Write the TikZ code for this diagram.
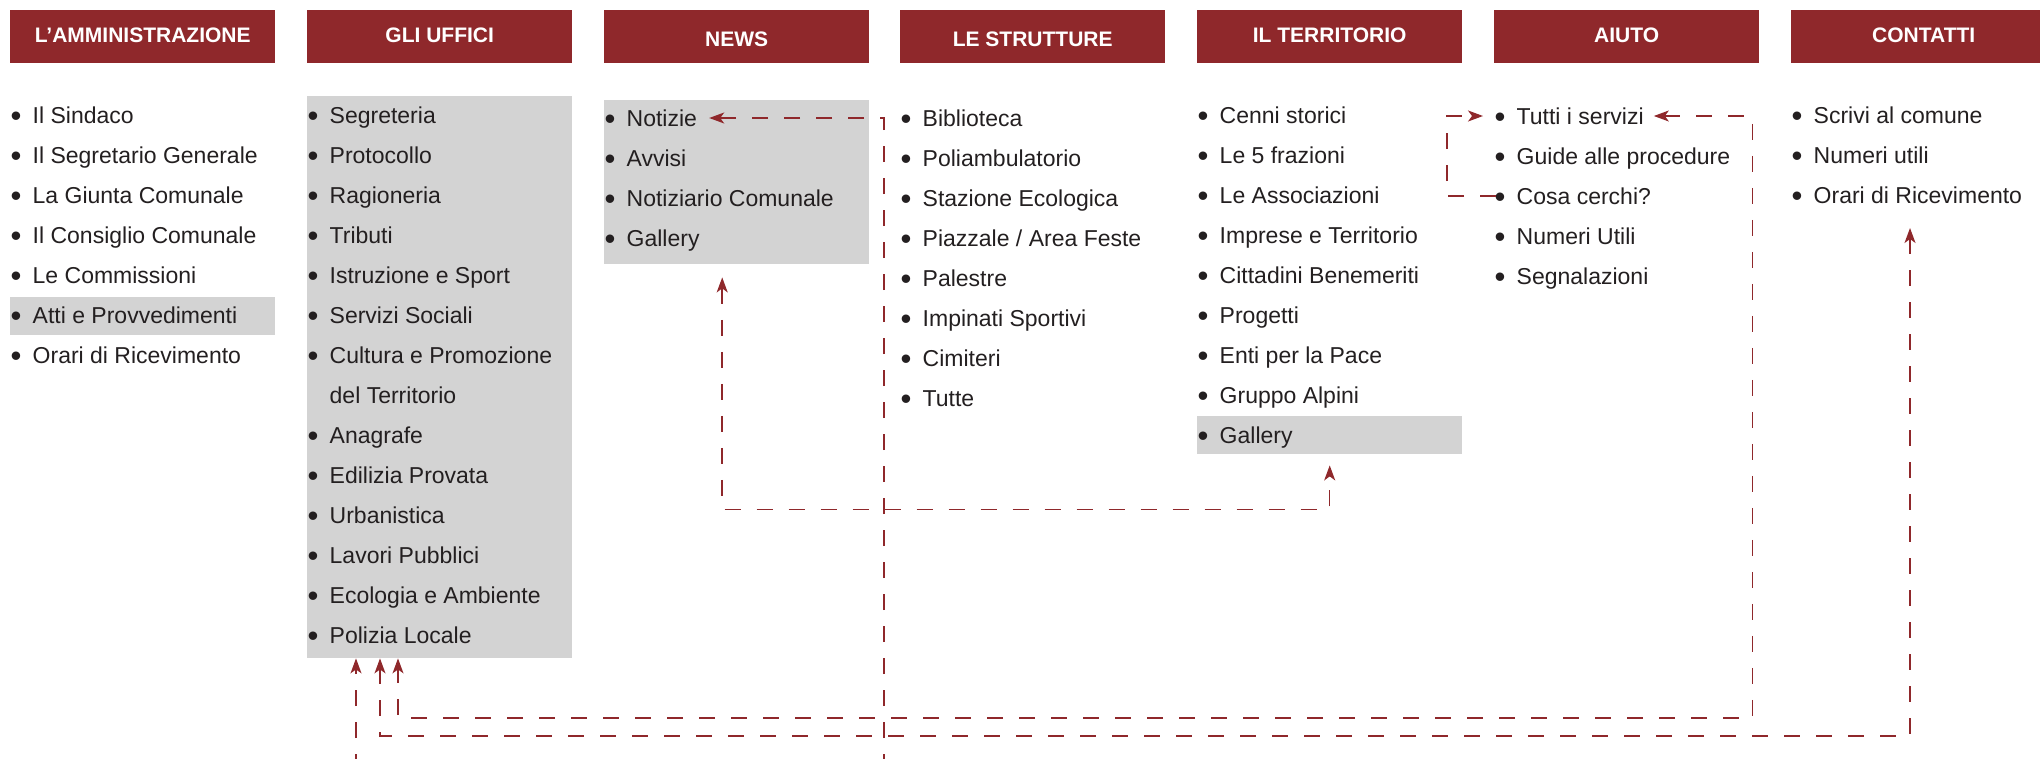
\documentclass[tikz,border=0pt]{standalone}
\usepackage{fontspec}
\usepackage{graphicx}
\setmainfont{Liberation Sans}
\usetikzlibrary{arrows.meta,calc}

\definecolor{menured}{RGB}{143,40,43}
\definecolor{panelgray}{RGB}{211,211,211}
\definecolor{ink}{RGB}{35,31,32}

\newcommand{\itembullet}{\makebox[20.5pt][l]{\hspace*{-1.5pt}\raisebox{-2.9pt}{\scalebox{1.35}{\textbullet}}}}
\newcommand{\nobullet}{\hspace*{20.5pt}}

\tikzset{
  header/.style={fill=menured, text=white, anchor=north west, inner sep=0pt,
    minimum width=265pt, minimum height=53pt,
    font=\fontsize{21}{25}\selectfont\bfseries, text height=12pt, text depth=0pt},
  headerlow/.style={header, text height=20pt},
  panel/.style={fill=panelgray, anchor=north west, inner sep=0pt, minimum width=265pt},
  item/.style={anchor=west, inner sep=0pt, text=ink,
    font=\fontsize{23}{28}\selectfont, text height=16.6pt, text depth=0pt},
  link/.style={draw=menured, line width=1.5pt, dash pattern=on 16pt off 16pt},
  >={Stealth[length=15pt,width=11pt,inset=4pt]}
}

\begin{document}
\begin{tikzpicture}[x=1pt,y=-1pt]
  \useasboundingbox (0,0) rectangle (2040,758);
  \clip (0,0) rectangle (2040,758);

  % menu headers
  \node[header] (amm-head) at (10,10) {L’AMMINISTRAZIONE};
  \node[header] (uff-head) at (307,10) {GLI UFFICI};
  \node[headerlow] (news-head) at (604,10) {NEWS};
  \node[headerlow] (strut-head) at (900,10) {LE STRUTTURE};
  \node[header] (terr-head) at (1197,10) {IL TERRITORIO};
  \node[header] (aiuto-head) at (1494,10) {AIUTO};
  \node[header] (cont-head) at (1791,10) {CONTATTI};

  % grey panels
  \node[panel, minimum height=38pt] (amm-hl) at (10,297) {};
  \node[panel, minimum height=562pt] (uff-bg) at (307,96) {};
  \node[panel, minimum height=164pt] (news-bg) at (604,100) {};
  \node[panel, minimum height=38pt] (terr-hl) at (1197,416) {};

  % menu entries
  \foreach \t [count=\i] in {Il Sindaco, Il Segretario Generale, La Giunta Comunale,
      Il Consiglio Comunale, Le Commissioni, Atti e Provvedimenti, Orari di Ricevimento}
    \node[item] (amm\i) at (12,75+40*\i) {\itembullet\t};

  \foreach \t [count=\i] in {Segreteria, Protocollo, Ragioneria, Tributi,
      Istruzione e Sport, Servizi Sociali, Cultura e Promozione}
    \node[item] (uff\i) at (309,75+40*\i) {\itembullet\t};
  \node[item] (uff8) at (309,395) {\nobullet del Territorio};
  \foreach \t [count=\i from 9] in {Anagrafe, Edilizia Provata, Urbanistica,
      Lavori Pubblici, Ecologia e Ambiente, Polizia Locale}
    \node[item] (uff\i) at (309,75+40*\i) {\itembullet\t};

  \foreach \t [count=\i] in {Notizie, Avvisi, Notiziario Comunale, Gallery}
    \node[item] (news\i) at (606,78+40*\i) {\itembullet\t};

  \foreach \t [count=\i] in {Biblioteca, Poliambulatorio, Stazione Ecologica,
      Piazzale / Area Feste, Palestre, Impinati Sportivi, Cimiteri, Tutte}
    \node[item] (strut\i) at (902,78+40*\i) {\itembullet\t};

  \foreach \t [count=\i] in {Cenni storici, Le 5 frazioni, Le Associazioni,
      Imprese e Territorio, Cittadini Benemeriti, Progetti, Enti per la Pace,
      Gruppo Alpini, Gallery}
    \node[item] (terr\i) at (1199,75+40*\i) {\itembullet\t};

  \foreach \t [count=\i] in {Tutti i servizi, Guide alle procedure, Cosa cerchi?,
      Numeri Utili, Segnalazioni}
    \node[item] (aiuto\i) at (1496,76+40*\i) {\itembullet\t};

  \foreach \t [count=\i] in {Scrivi al comune, Numeri utili, Orari di Ricevimento}
    \node[item] (cont\i) at (1793,75+40*\i) {\itembullet\t};

  % links
  \coordinate (news-foot) at (884,770);
  \coordinate (uff-foot) at (356,770);
  \draw[link,->] (news-foot) |- ($(news1.east)+(12,0)$);
  \draw[link,->] (uff-foot) -- (uff-foot |- uff-bg.south);
  \draw[link,<->] ($(news-bg.south)+(-14.5,13)$) -- ++(0,232) -| ($(terr-hl.south)+(0,11)$);
  \draw[link,<->] ($(cont3.west)+(117,33)$) -- ++(0,508) -| ($(uff-bg.south west)+(73,0)$);
  \draw[link,<->] ($(aiuto1.east)+(10,0)$) -| ($(aiuto-head.east)+(-7,681.5)$)
    -| ($(uff-bg.south west)+(91,0)$);
  \draw[link,->] (aiuto3.west) -- ++(-49,0) |- ($(aiuto1.west)+(-13,0)$);
\end{tikzpicture}
\end{document}
